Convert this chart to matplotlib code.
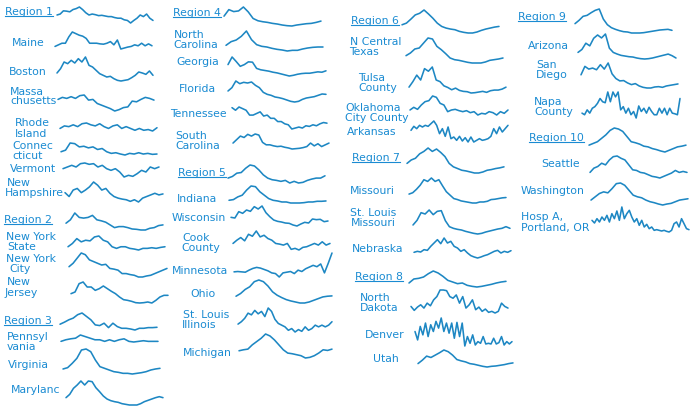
import matplotlib
matplotlib.use("Agg")
import matplotlib.pyplot as plt
from matplotlib.lines import Line2D
from matplotlib.transforms import IdentityTransform

# ---------------- data (relative weekly levels) ----------------
region1 = [27, 30, 40, 39, 37, 44, 47, 52, 44, 34, 27, 30, 28, 25, 26, 24, 22, 22, 19, 17, 17, 12, 10, 2, 10, 17, 27, 22, 30, 17, 10]
maine = [10, 15, 20, 20, 40, 55, 50, 45, 42, 35, 20, 20, 20, 18, 17, 20, 25, 15, 30, 2, 5, 8, 10, 15, 12, 20, 12, 18, 12]
boston = [27, 40, 60, 55, 65, 57, 70, 60, 75, 50, 45, 35, 25, 20, 15, 17, 10, 5, 3, 5, 7, 13, 20, 30, 27, 23, 33, 20]
massachusetts = [37, 43, 40, 45, 40, 48, 50, 35, 37, 25, 20, 15, 10, 3, 7, 13, 15, 32, 30, 37, 43, 40, 35]
rhode_island = [10, 17, 15, 20, 15, 23, 25, 20, 17, 23, 15, 10, 17, 20, 10, 15, 10, 5, 10, 5, 7, 3, 12]
connecticut = [13, 18, 40, 38, 28, 30, 25, 28, 20, 23, 13, 8, 10, 6, 3, 8, 6, 10, 6, 8, 5, 6]
vermont = [30, 35, 40, 35, 45, 47, 43, 45, 35, 40, 30, 25, 30, 20, 5, 10, 7, 15, 25, 20, 35, 30, 35]
new_hampshire = [32, 20, 40, 45, 32, 40, 50, 65, 55, 40, 45, 30, 20, 15, 12, 10, 5, 10, 3, 15, 20, 25, 30, 25, 28]

region2 = [23, 33, 53, 40, 38, 40, 46, 33, 30, 26, 18, 10, 13, 13, 10, 6, 5, 3, 3, 8, 10, 16, 18]
new_york_state = [13, 23, 38, 28, 33, 31, 43, 46, 33, 28, 13, 8, 13, 13, 8, 6, 3, 8, 8, 10, 8, 11, 13]
new_york_city = [35, 45, 60, 75, 70, 55, 50, 45, 40, 42, 30, 28, 25, 15, 15, 12, 10, 5, 5, 8, 10, 15, 20, 25, 30]
new_jersey = [33, 38, 63, 68, 53, 53, 43, 48, 56, 48, 40, 33, 23, 15, 13, 10, 6, 5, 6, 8, 5, 13, 23, 28, 28]

region3 = [22, 28, 35, 40, 50, 55, 45, 35, 20, 18, 25, 12, 25, 15, 10, 10, 8, 5, 10, 10, 12, 12, 13]
pennsylvania = [5, 10, 13, 15, 25, 20, 15, 10, 10, 5, 10, 5, 10, 13, 5, 3, 5, 7, 5, 5, 5]
virginia = [18, 22, 35, 50, 75, 78, 70, 45, 25, 20, 15, 10, 8, 5, 5, 3, 5, 7, 10, 15, 18, 20]
maryland = [27, 37, 55, 65, 77, 65, 77, 75, 57, 45, 32, 23, 18, 15, 13, 9, 7, 5, 5, 5, 9, 15, 19, 23, 27, 30, 27]

region4 = [32, 52, 46, 48, 60, 45, 25, 18, 15, 13, 10, 8, 5, 3, 2, 5, 7, 9, 10, 13, 17]
north_carolina = [20, 31, 36, 47, 63, 37, 22, 17, 15, 11, 8, 6, 3, 5, 5, 9, 12, 14, 15, 15]
georgia = [37, 59, 46, 32, 37, 45, 44, 26, 22, 20, 18, 15, 13, 10, 7, 4, 6, 9, 11, 12, 12, 14, 16, 15, 19]
florida = [38, 48, 68, 60, 64, 62, 65, 55, 48, 34, 28, 25, 20, 18, 15, 11, 7, 5, 7, 13, 17, 19, 21, 25, 29, 28]
tennessee = [70, 62, 72, 67, 62, 47, 47, 52, 57, 44, 47, 37, 37, 27, 27, 20, 17, 4, 7, 10, 7, 14, 12, 17, 14, 20, 24, 22]
south_carolina = [22, 32, 42, 38, 47, 42, 48, 45, 24, 17, 17, 14, 12, 13, 10, 8, 5, 6, 7, 9, 12, 22, 14, 20, 12, 17, 22]

region5 = [20, 25, 35, 37, 50, 60, 57, 45, 30, 20, 15, 13, 10, 13, 5, 10, 5, 7, 13, 17, 20, 20, 27]
indiana = [12, 14, 22, 27, 42, 54, 52, 37, 27, 17, 12, 10, 7, 7, 4, 4, 4, 5, 7, 7, 9, 9, 10]
wisconsin = [30, 28, 47, 42, 52, 48, 62, 55, 64, 44, 32, 22, 18, 16, 13, 12, 7, 4, 10, 15, 13, 25, 23, 24, 17, 19]
cook_county = [25, 35, 43, 33, 53, 47, 63, 45, 50, 40, 35, 25, 23, 20, 25, 7, 10, 5, 13, 15, 20, 25, 20, 30, 20, 25]
minnesota = [17, 18, 17, 16, 22, 27, 30, 28, 24, 20, 14, 12, 2, 14, 16, 18, 12, 22, 18, 26, 31, 36, 32, 40, 14, 42, 72]
ohio = [24, 32, 44, 52, 67, 72, 67, 54, 37, 27, 20, 14, 10, 7, 4, 4, 7, 12, 17, 22, 24, 25]
st_louis_il = [28, 35, 45, 60, 55, 68, 58, 65, 50, 75, 65, 42, 30, 25, 20, 10, 15, 5, 12, 7, 20, 10, 15, 25, 20, 25, 20, 25, 35]
michigan = [25, 28, 30, 43, 53, 63, 76, 70, 58, 43, 28, 18, 16, 13, 10, 3, 5, 10, 18, 28, 26, 30]

region6 = [28, 33, 45, 58, 63, 73, 61, 48, 33, 23, 18, 15, 13, 8, 5, 3, 3, 6, 11, 15, 18, 21, 23]
n_central_texas = [26, 34, 46, 49, 64, 79, 76, 54, 44, 32, 19, 14, 12, 9, 6, 4, 4, 4, 7, 12, 14, 16, 19]
tulsa_county = [23, 40, 60, 45, 80, 72, 85, 45, 40, 27, 22, 15, 20, 13, 10, 9, 5, 6, 8, 10, 7, 12, 14, 14, 17, 23]
oklahoma_city = [20, 28, 22, 35, 45, 48, 62, 58, 40, 35, 15, 20, 22, 18, 15, 18, 12, 15, 5, 10, 8, 15, 12, 5, 15, 10, 20]
arkansas = [40, 52, 45, 55, 50, 55, 52, 60, 68, 55, 30, 45, 22, 50, 15, 20, 10, 22, 8, 18, 5, 20, 5, 10, 15, 10, 12, 15, 22, 45, 30, 50, 35, 45, 55]

region7 = [32, 42, 47, 60, 67, 77, 67, 74, 64, 52, 32, 22, 17, 12, 10, 7, 4, 4, 7, 12, 14, 17, 19, 22]
missouri = [30, 34, 44, 56, 72, 67, 77, 67, 72, 54, 37, 27, 17, 14, 10, 8, 6, 4, 4, 7, 7, 9, 14, 15, 17, 19, 20]
st_louis_mo = [31, 45, 68, 64, 76, 62, 72, 74, 44, 26, 21, 18, 16, 12, 9, 6, 4, 6, 10, 13, 16, 19, 21, 26, 21]
nebraska = [20, 23, 21, 28, 26, 38, 48, 58, 46, 63, 48, 53, 38, 33, 23, 28, 18, 10, 6, 3, 6, 10, 13, 18, 23, 26, 18, 23, 20, 25]

region8 = [14, 26, 28, 32, 42, 50, 44, 34, 22, 17, 12, 14, 7, 4, 2, 4, 7, 10, 14, 17, 19]
north_dakota = [25, 13, 23, 30, 20, 35, 27, 45, 55, 75, 75, 73, 55, 50, 60, 35, 55, 20, 30, 45, 15, 23, 10, 17, 7, 10, 5, 10, 35, 25, 20]
denver = [47, 22, 62, 37, 72, 32, 67, 47, 77, 57, 87, 47, 72, 42, 72, 27, 74, 32, 72, 4, 32, 12, 37, 7, 17, 12, 32, 10, 12, 10, 27, 10, 14, 32, 7, 17, 10, 17]
utah = [13, 23, 35, 31, 38, 45, 53, 48, 38, 25, 21, 18, 13, 11, 8, 5, 3, 5, 6, 8, 10, 13, 15]

region9 = [31, 41, 53, 56, 64, 71, 75, 45, 28, 19, 14, 10, 7, 6, 3, 3, 3, 4, 6, 8, 10, 12, 13, 14, 11]
arizona = [22, 31, 50, 42, 65, 75, 66, 78, 35, 22, 17, 13, 11, 9, 8, 5, 3, 2, 3, 5, 8, 11, 14, 17, 12, 5]
san_diego = [43, 68, 60, 63, 58, 73, 60, 78, 46, 32, 25, 26, 19, 14, 17, 10, 6, 4, 4, 7, 8, 6, 10, 12, 14, 16]
napa_county = [18, 13, 28, 18, 33, 38, 48, 63, 53, 50, 83, 53, 83, 68, 83, 28, 38, 18, 33, 13, 23, 3, 40, 23, 33, 18, 36, 23, 13, 13, 33, 18, 33, 13, 33, 18, 16, 13, 63]

region10 = [23, 28, 33, 43, 53, 66, 73, 70, 63, 48, 33, 30, 26, 20, 18, 13, 10, 6, 3, 8, 13, 18, 20, 23]
seattle = [22, 35, 40, 50, 45, 60, 70, 72, 65, 60, 45, 30, 28, 22, 20, 15, 10, 8, 5, 10, 15, 20, 28, 22, 25, 22]
washington = [18, 28, 38, 43, 40, 53, 68, 70, 63, 48, 33, 28, 25, 18, 13, 10, 6, 3, 6, 8, 13, 18, 20, 22]
hosp_portland = [38, 30, 43, 33, 48, 38, 53, 33, 58, 43, 66, 38, 78, 43, 58, 68, 48, 33, 43, 23, 38, 18, 26, 13, 18, 8, 10, 8, 6, 8, 5, 3, 8, 28, 33, 18, 43, 28, 13, 10]

# ---------------- layout (pixel boxes) ----------------
W, H = 700, 420
TEXT_C = "#1a8bd2"
LINE_C = "#1d87c3"
FS = 7.8

# (label text, left x, centre y, underlined)
labels = [
    ("Region 1", 5, 11, True), ("Maine", 12, 42, False), ("Boston", 9, 71, False),
    ("Massa", 10, 91, False), ("chusetts", 10, 100.5, False),
    ("Rhode", 15, 122, False), ("Island", 15, 133, False),
    ("Connec", 12, 145, False), ("cticut", 12, 155, False),
    ("Vermont", 10, 168, False), ("New", 7, 182, False), ("Hampshire", 5, 192, False),
    ("Region 2", 4, 219, True), ("New York", 6, 236.5, False), ("State", 7, 246.5, False),
    ("New York", 6, 258, False), ("City", 9, 268, False),
    ("New", 7, 281, False), ("Jersey", 5, 292, False),
    ("Region 3", 4, 320, True), ("Pennsyl", 7, 336.5, False), ("vania", 7, 346.5, False),
    ("Virginia", 8, 364, False), ("Marylanc", 11, 389, False),

    ("Region 4", 173, 12, True), ("North", 174, 34, False), ("Carolina", 173, 44, False),
    ("Georgia", 176, 61, False), ("Florida", 179, 88, False), ("Tennessee", 170, 113, False),
    ("South", 175, 135, False), ("Carolina", 175, 145, False),
    ("Region 5", 178, 172, True), ("Indiana", 177, 198, False), ("Wisconsin", 172, 217, False),
    ("Cook", 182, 237, False), ("County", 181, 247, False), ("Minnesota", 172, 270, False),
    ("Ohio", 190, 293, False), ("St. Louis", 183, 314.5, False), ("Illinois", 182, 324.5, False),
    ("Michigan", 183, 352, False),

    ("Region 6", 351, 20, True), ("N Central", 350, 41.5, False), ("Texas", 349, 51.5, False),
    ("Tulsa", 358, 77.5, False), ("County", 358, 87.5, False),
    ("Oklahoma", 345, 107, False), ("City County", 345, 117, False),
    ("Arkansas", 347, 131, False), ("Region 7", 352, 157, True), ("Missouri", 350, 190, False),
    ("St. Louis", 350, 212, False), ("Missouri", 351, 222, False), ("Nebraska", 352, 248, False),
    ("Region 8", 355, 276, True), ("North", 360, 297, False), ("Dakota", 360, 307, False),
    ("Denver", 365, 334, False), ("Utah", 373, 358, False),

    ("Region 9", 518, 16, True), ("Arizona", 528, 45, False),
    ("San", 536, 64, False), ("Diego", 536, 74, False),
    ("Napa", 534, 101, False), ("County", 534, 111, False),
    ("Region 10", 529, 137, True), ("Seattle", 541, 163, False), ("Washington", 521, 190, False),
    ("Hosp A,", 521, 216, False), ("Portland, OR", 521, 227, False),
]

# (series, x0, x1, y top, y bottom)
panels = [
    (region1, 57, 153, 7, 23), (maine, 55, 152, 32, 49), (boston, 57, 153, 57, 81),
    (massachusetts, 58, 154, 95, 111), (rhode_island, 60, 157, 123, 131),
    (connecticut, 61, 157, 143, 155), (vermont, 63, 159, 163, 177),
    (new_hampshire, 65, 163, 182, 202),
    (region2, 66, 163, 213, 230), (new_york_state, 68, 165, 236, 250),
    (new_york_city, 69, 167, 253, 277), (new_jersey, 71, 168, 282, 303),
    (region3, 60, 157, 313, 330), (pennsylvania, 61, 158, 335, 342),
    (virginia, 63, 160, 349, 374), (maryland, 66, 163, 381, 405),

    (region4, 224, 321, 7, 26), (north_carolina, 226, 323, 31, 51),
    (georgia, 228, 326, 57, 76), (florida, 228, 326, 81, 102),
    (tennessee, 232, 327, 107, 129), (south_carolina, 233, 329, 134, 149),
    (region5, 228, 325, 165, 183), (indiana, 229, 326, 186, 203),
    (wisconsin, 231, 328, 206, 226), (cook_county, 233, 330, 231, 250),
    (minnesota, 234, 332, 253, 277), (ohio, 236, 332, 280, 303),
    (st_louis_il, 238, 332, 308, 332), (michigan, 239, 332, 334, 358),

    (region6, 402, 499, 10, 33), (n_central_texas, 406, 503, 38, 63),
    (tulsa_county, 409, 506, 67, 93), (oklahoma_city, 410, 508, 96, 115),
    (arkansas, 411, 508, 121, 142), (region7, 407, 504, 148, 173),
    (missouri, 409, 506, 178, 203), (st_louis_mo, 413, 510, 210, 234),
    (nebraska, 414, 511, 238, 258), (region8, 409, 506, 271, 287),
    (north_dakota, 411, 508, 290, 313), (denver, 415, 512, 318, 346),
    (utah, 418, 513, 350, 367),

    (region9, 575, 672, 9, 33), (arizona, 578, 676, 34, 59),
    (san_diego, 581, 678, 63, 88), (napa_county, 582, 680, 92, 118),
    (region10, 589, 686, 128, 152), (seattle, 590, 687, 156, 178),
    (washington, 591, 688, 183, 205), (hosp_portland, 592, 689, 207, 232),
]

fig = plt.figure(figsize=(W / 100, H / 100), dpi=100)
fig.patch.set_facecolor("white")

for data, x0, x1, yt, yb in panels:
    ax = fig.add_axes([x0 / W, 1 - yb / H, (x1 - x0) / W, (yb - yt) / H])
    ax.plot(range(len(data)), data, color=LINE_C, lw=1.15,
            solid_joinstyle="round", solid_capstyle="round", clip_on=False)
    ax.set_xlim(0, len(data) - 1)
    ax.set_ylim(min(data), max(data))
    ax.axis("off")

under = []
for text, x, y, ul in labels:
    t = fig.text(x / W, 1 - (y + 3.7) / H, text, ha="left", va="baseline",
                 fontsize=FS, color=TEXT_C, family="DejaVu Sans")
    if ul:
        under.append((t, y))

fig.canvas.draw()
r = fig.canvas.get_renderer()
for t, y in under:
    bb = t.get_window_extent(r)
    yd = H - (y + 5.4)
    fig.add_artist(Line2D([bb.x0, bb.x1], [yd, yd], transform=IdentityTransform(),
                          color=TEXT_C, lw=0.8))

fig.savefig("out.png", dpi=100, facecolor="white")
